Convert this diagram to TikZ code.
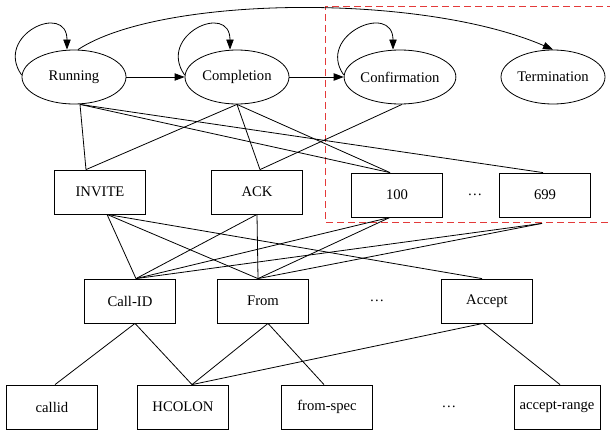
\documentclass[tikz,border=0pt]{standalone}
\usepackage{fontspec}
\setmainfont{Liberation Serif}
\usepackage{xcolor}
\usepackage{tikz}
\usetikzlibrary{shapes.geometric, arrows.meta, positioning}
\definecolor{regionred}{RGB}{228,58,58}

\begin{document}
\begin{tikzpicture}[node distance=122.25pt, auto, semithick,
    font=\fontsize{11}{13}\selectfont,
    phase/.style={ellipse, draw, minimum width=78pt, minimum height=40.5pt, inner sep=0pt},
    box/.style={rectangle, draw, minimum width=68.25pt, minimum height=33pt, inner sep=0pt},
    >={Triangle[length=7.5pt, width=5.5pt]}]
    \useasboundingbox (-55.5pt,-266.25pt) rectangle (402pt,57.75pt);

    % States
    \node (Running) [phase] {Running};
    \node (Completion) [phase, right of=Running] {Completion};
    \node (Confirmation) [phase, right of=Completion] {Confirmation};
    \node (Termination) [phase, node distance=114.75pt, right of=Confirmation] {Termination};

    % Messages
    \node (INVITE) [box, node distance=86.25pt, below of=Running, xshift=19.5pt] {INVITE};
    \node (ACK) [box, node distance=117.75pt, right of=INVITE] {ACK};
    \node (Code100) [box, node distance=105pt, right of=ACK, yshift=-2.25pt] {100};
    \node (Code699) [box, node distance=111pt, right of=Code100] {699};
    \node (MoreCodes) [node distance=58.5pt, right of=Code100] {…};

    % Headers
    \node (CallID) [box, node distance=81.75pt, below of=INVITE, xshift=22.5pt] {Call-ID};
    \node (From) [box, node distance=99.75pt, right of=CallID] {From};
    \node (MoreHeaders) [node distance=85.5pt, right of=From] {…};
    \node (Accept) [box, node distance=168pt, right of=From] {Accept};

    % Rules
    \node (callid) [box, node distance=79.5pt, below of=CallID, xshift=-58.5pt] {callid};
    \node (HCOLON) [box, node distance=98.25pt, right of=callid] {HCOLON};
    \node (FromSpec) [box, node distance=108pt, right of=HCOLON] {from-spec};
    \node (MoreRules) [node distance=91.5pt, right of=FromSpec] {…};
    \node (AcceptRange) [box, minimum width=64.5pt, node distance=172.5pt, right of=FromSpec] {accept-range};

    \draw [regionred, dash pattern=on 5.25pt off 3pt] (405pt,53.25pt) -- (188.25pt,53.25pt) -- (188.25pt,-108.75pt) -- (405pt,-108.75pt);

    \draw [->] (Running) -- (Completion);
    \draw [->] (Completion) -- (Confirmation);
    \draw [->] ([xshift=3pt]Running.north) .. controls +(61.5pt,40.5pt) and +(-99pt,42.75pt) .. (Termination.north);

    \draw [->] ([yshift=1.5pt]Running.west) .. controls +(-21pt,30pt) and +(0pt,36pt) .. ([xshift=-5.25pt]Running.north);
    \draw [->] ([yshift=1.5pt]Completion.west) .. controls +(-21pt,30pt) and +(0pt,36pt) .. ([xshift=-5.25pt]Completion.north);
    \draw [->] ([yshift=1.5pt]Confirmation.west) .. controls +(-21pt,30pt) and +(0pt,36pt) .. ([xshift=-5.25pt]Confirmation.north);

    \draw ([xshift=4.5pt]Running.south) -- ([xshift=-10.5pt]INVITE.north);
    \draw ([xshift=4.5pt]Running.south) -- ([xshift=-5.25pt]Code100.north);
    \draw ([xshift=4.5pt]Running.south) -- ([xshift=-1.5pt]Code699.north);
    \draw (Completion.south) -- ([xshift=-10.5pt]INVITE.north);
    \draw (Completion.south) -- ([xshift=2.25pt]ACK.north);
    \draw (Completion.south) -- ([xshift=-5.25pt]Code100.north);
    \draw ([xshift=1.5pt]Confirmation.south) -- ([xshift=2.25pt]ACK.north);

    \draw ([xshift=5.25pt]INVITE.south) -- ([xshift=4.5pt]CallID.north);
    \draw ([xshift=5.25pt]INVITE.south) -- ([xshift=-3.75pt]From.north);
    \draw ([xshift=5.25pt]INVITE.south) -- ([xshift=-3.75pt]Accept.north);
    \draw (ACK.south) -- ([xshift=4.5pt]CallID.north);
    \draw (ACK.south) -- ([xshift=-3.75pt]From.north);
    \draw ([xshift=-5.25pt]Code100.south) -- ([xshift=4.5pt]CallID.north);
    \draw ([xshift=-5.25pt]Code100.south) -- ([xshift=-3.75pt]From.north);
    \draw ([xshift=-2.25pt, yshift=-4.5pt]Code699.south) -- ([xshift=4.5pt]CallID.north);
    \draw ([xshift=-2.25pt, yshift=-4.5pt]Code699.south) -- ([xshift=-3.75pt]From.north);

    \draw ([xshift=3.75pt]CallID.south) -- ([xshift=2.25pt]callid.north);
    \draw ([xshift=3.75pt]CallID.south) -- ([xshift=6.75pt]HCOLON.north);
    \draw ([xshift=3.75pt]From.south) -- ([xshift=6.75pt]HCOLON.north);
    \draw ([xshift=3.75pt]From.south) -- ([xshift=-2.25pt]FromSpec.north);
    \draw ([xshift=-3pt]Accept.south) -- ([xshift=6.75pt]HCOLON.north);
    \draw ([xshift=-3pt]Accept.south) -- ([xshift=2.25pt]AcceptRange.north);
\end{tikzpicture}
\end{document}
